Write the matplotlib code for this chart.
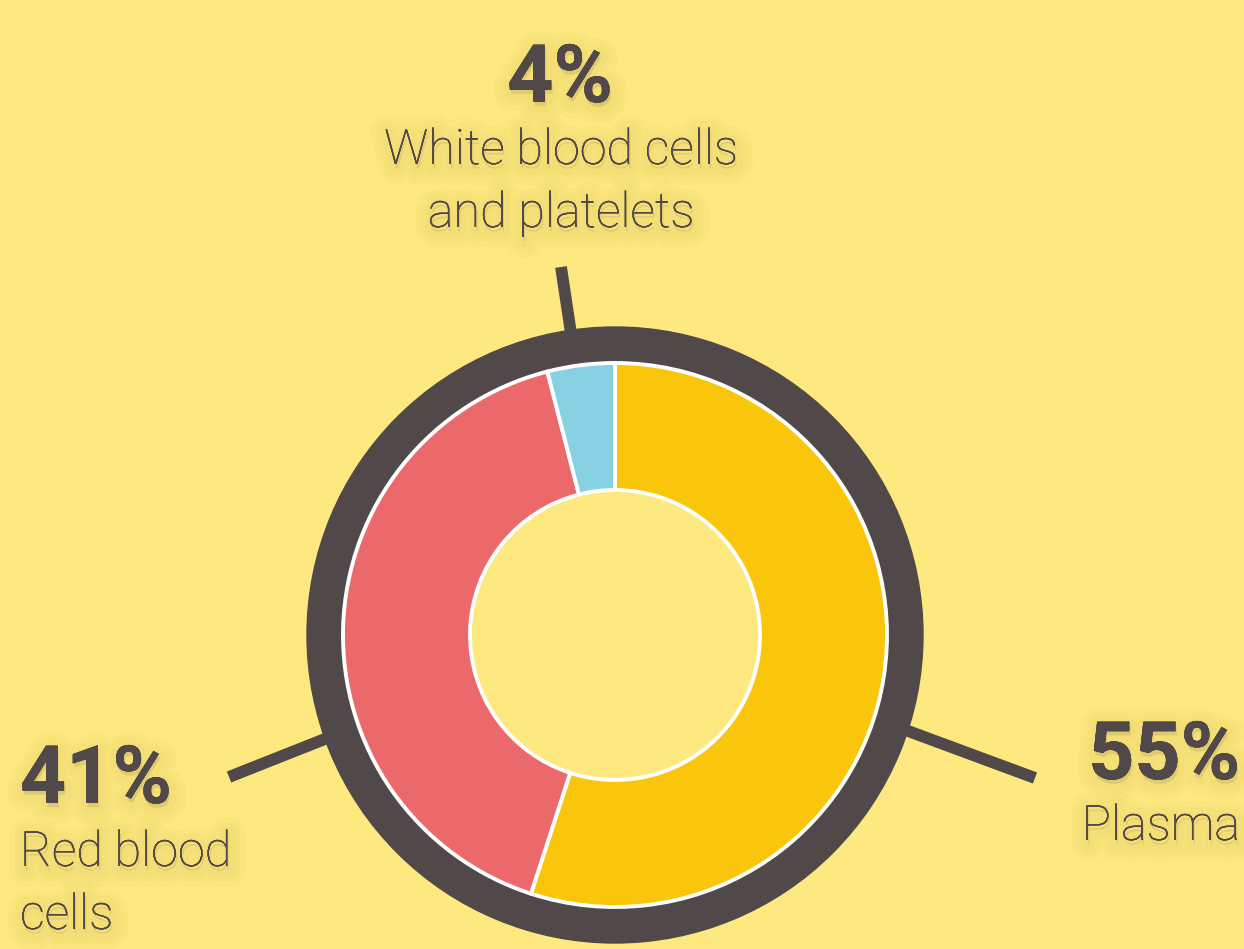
import matplotlib.pyplot as plt
import matplotlib.patheffects as pe
from matplotlib.patches import Wedge

# blood composition
labels = [['Plasma'], ['Red blood', 'cells'], ['White blood cells', 'and platelets']]
values = [55, 41, 4]
pct_labels = ['55%', '41%', '4%']
colors = ['#F9C60C', '#EB696A', '#88D1E2']

bg = '#FDE97F'
dark = '#514849'

W, H = 1244, 949
fig = plt.figure(figsize=(W / 100, H / 100), dpi=100, facecolor=bg)
ax = fig.add_axes([0, 0, 1, 1])
ax.set_facecolor(bg)

cx, cy = 615, H - 635

# leader lines (pixel coords, y from top)
leaders = [((900, 728), (1035, 778)), ((335, 735), (229, 777)), ((572, 340), (561, 267))]
for (x0, y0), (x1, y1) in leaders:
    ax.plot([x0, x1], [H - y0, H - y1], color=dark, lw=8.5, solid_capstyle='butt', zorder=0.5)

# dark outer ring
ax.add_patch(Wedge((cx, cy), 308, 0, 360, width=44, color=dark, zorder=0.8))

ax.pie(values, colors=colors, startangle=90, counterclock=False, radius=272,
       center=(cx, cy), wedgeprops=dict(width=127, edgecolor='white', linewidth=2.8))

ax.set_xlim(0, W)
ax.set_ylim(0, H)
ax.set_aspect('equal')
ax.axis('off')

glow = [pe.withStroke(linewidth=w, foreground='#B89E3A', alpha=0.045, offset=(1, -3))
        for w in (24, 16, 9)] + [pe.Normal()]

# percent and label text positions (x, baseline y from top)
pct_pos = [(1240, 779, 'right'), (20, 803, 'left'), (560, 102, 'center')]
lab_pos = [(1240, 840, 'right'), (20, 866, 'left'), (561, 164, 'center')]
line_gap = 63

for i in range(len(values)):
    x, y, ha = pct_pos[i]
    ax.text(x, H - y, pct_labels[i], fontsize=58, fontweight='bold', color=dark,
            family='Roboto', ha=ha, va='baseline', path_effects=glow)
    x, y, ha = lab_pos[i]
    for j, line in enumerate(labels[i]):
        ax.text(x, H - (y + j * line_gap), line, fontsize=35, fontweight='light', color=dark,
                family='Roboto', ha=ha, va='baseline', path_effects=glow)

fig.savefig('out.png', dpi=100, facecolor=bg)
